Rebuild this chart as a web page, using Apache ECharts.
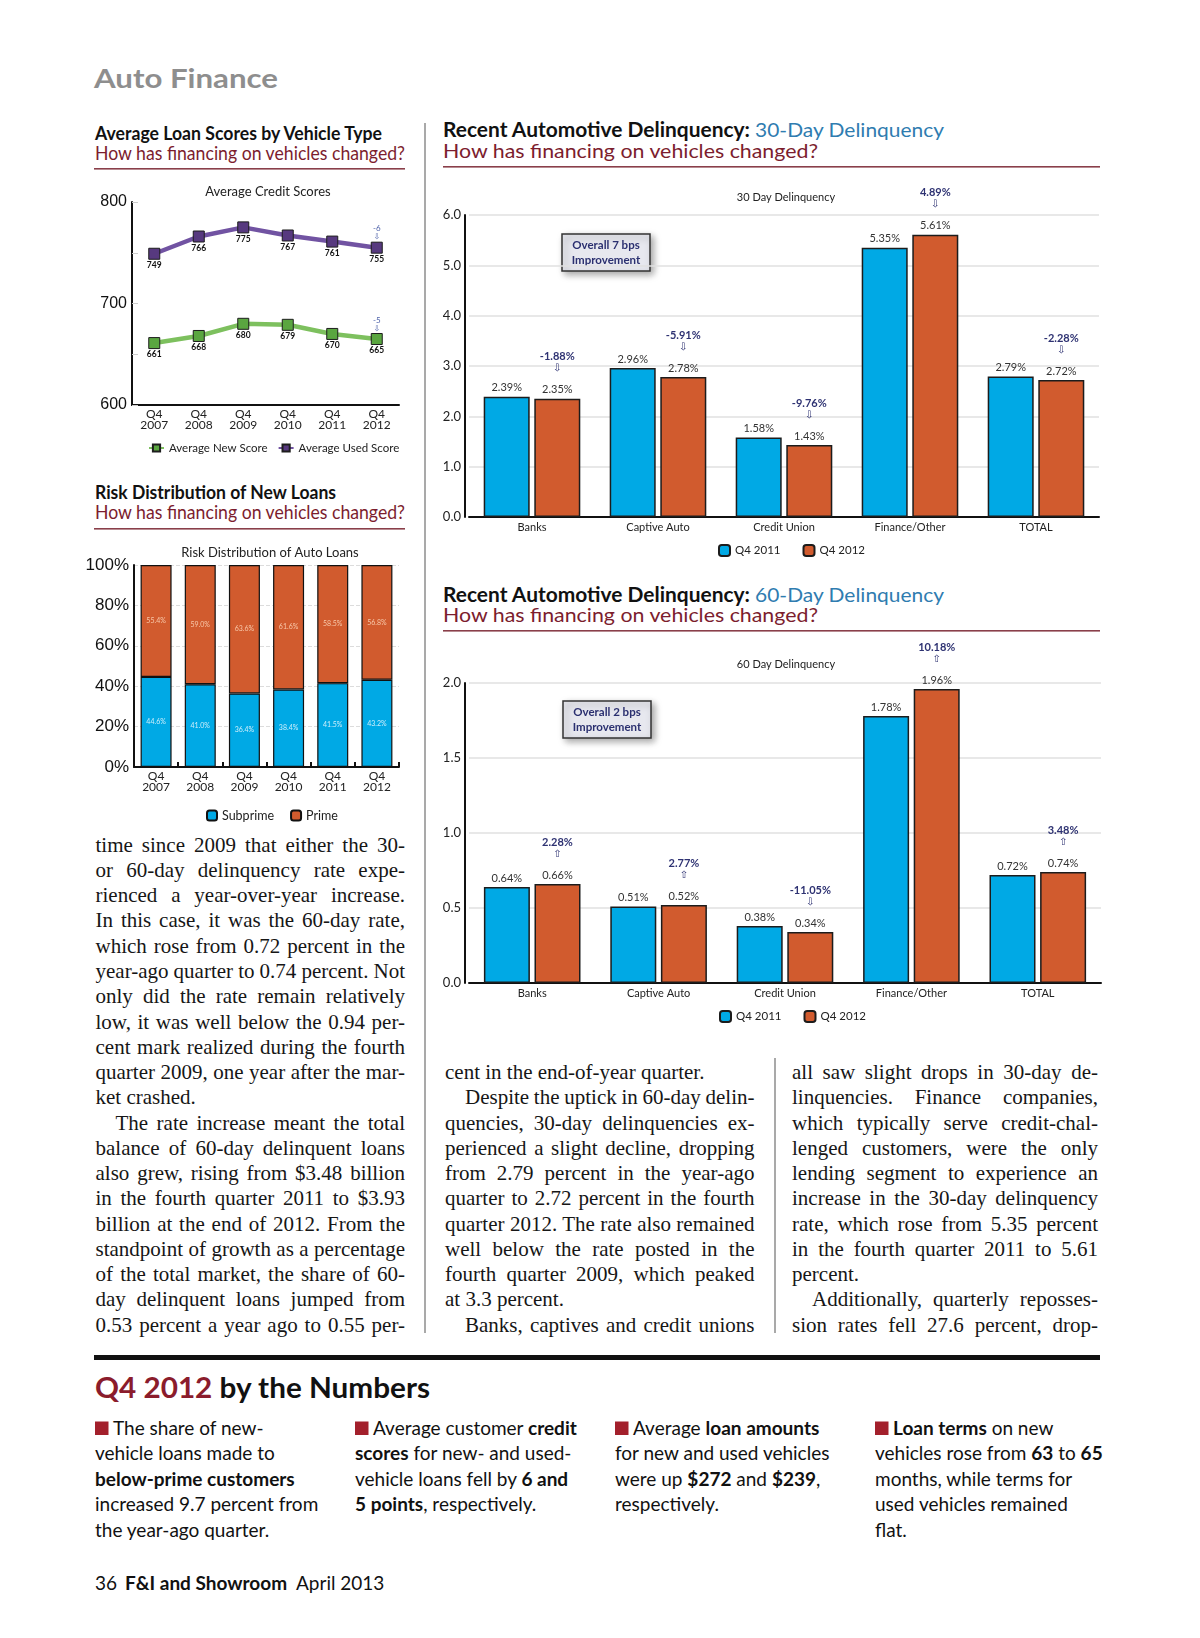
<!DOCTYPE html>
<html><head><meta charset="utf-8"><title>Auto Finance</title>
<script src="https://cdn.jsdelivr.net/npm/echarts@6/dist/echarts.min.js"></script>
<style>
html,body{margin:0;padding:0;background:#fff;}
#page{position:relative;width:1200px;height:1638px;overflow:hidden;background:#fff;}
#txt{position:absolute;left:0;top:0;}
#chart{position:absolute;left:0;top:0;width:1200px;height:1638px;}
</style></head><body>
<div id="page"><svg id="txt" width="1200" height="1638" xmlns="http://www.w3.org/2000/svg"></svg><div id="chart"></div></div>
<script>
// ---------------- DATA ----------------
const years = ['Q4\n2007','Q4\n2008','Q4\n2009','Q4\n2010','Q4\n2011','Q4\n2012'];
const newScore = [661,668,680,679,670,665];
const usedScore = [749,766,775,767,761,755];
const scoreChangeNew = -5;
const scoreChangeUsed = -6;
const subprimeShare = [44.6,41.0,36.4,38.4,41.5,43.2];
const primeShare = [55.4,59.0,63.6,61.6,58.5,56.8];
const lenders = ['Banks','Captive Auto','Credit Union','Finance/Other','TOTAL'];
const del30Q42011 = [2.39,2.96,1.58,5.35,2.79];
const del30Q42012 = [2.35,2.78,1.43,5.61,2.72];
const del30Change = ['-1.88%','-5.91%','-9.76%','4.89%','-2.28%'];
const del30Arrow = ['⇩','⇩','⇩','⇩','⇩'];
const del60Q42011 = [0.64,0.51,0.38,1.78,0.72];
const del60Q42012 = [0.66,0.52,0.34,1.96,0.74];
const del60Change = ['2.28%','2.77%','-11.05%','10.18%','3.48%'];
const del60Arrow = ['⇧','⇧','⇩','⇧','⇧'];

// ---------------- PAGE TEXT ----------------
const leftLines = [
 ['time since 2009 that either the 30-','j'],
 ['or 60-day delinquency rate expe-','j'],
 ['rienced a year-over-year increase.','j'],
 ['In this case, it was the 60-day rate,','j'],
 ['which rose from 0.72 percent in the','j'],
 ['year-ago quarter to 0.74 percent. Not','j'],
 ['only did the rate remain relatively','j'],
 ['low, it was well below the 0.94 per-','j'],
 ['cent mark realized during the fourth','j'],
 ['quarter 2009, one year after the mar-','j'],
 ['ket crashed.','l'],
 ['The rate increase meant the total','ij'],
 ['balance of 60-day delinquent loans','j'],
 ['also grew, rising from $3.48 billion','j'],
 ['in the fourth quarter 2011 to $3.93','j'],
 ['billion at the end of 2012. From the','j'],
 ['standpoint of growth as a percentage','j'],
 ['of the total market, the share of 60-','j'],
 ['day delinquent loans jumped from','j'],
 ['0.53 percent a year ago to 0.55 per-','j']
];
const midLines = [
 ['cent in the end-of-year quarter.','l'],
 ['Despite the uptick in 60-day delin-','ij'],
 ['quencies, 30-day delinquencies ex-','j'],
 ['perienced a slight decline, dropping','j'],
 ['from 2.79 percent in the year-ago','j'],
 ['quarter to 2.72 percent in the fourth','j'],
 ['quarter 2012. The rate also remained','j'],
 ['well below the rate posted in the','j'],
 ['fourth quarter 2009, which peaked','j'],
 ['at 3.3 percent.','l'],
 ['Banks, captives and credit unions','ij']
];
const rightLines = [
 ['all saw slight drops in 30-day de-','j'],
 ['linquencies. Finance companies,','j'],
 ['which typically serve credit-chal-','j'],
 ['lenged customers, were the only','j'],
 ['lending segment to experience an','j'],
 ['increase in the 30-day delinquency','j'],
 ['rate, which rose from 5.35 percent','j'],
 ['in the fourth quarter 2011 to 5.61','j'],
 ['percent.','l'],
 ['Additionally, quarterly reposses-','ij'],
 ['sion rates fell 27.6 percent, drop-','j']
];
const bullets = [
 ['The share of new-','vehicle loans made to','**below-prime customers**','increased 9.7 percent from','the year-ago quarter.'],
 ['Average customer **credit**','**scores** for new- and used-','vehicle loans fell by **6 and**','**5 points**, respectively.'],
 ['Average **loan amounts**','for new and used vehicles','were up **$272** and **$239**,','respectively.'],
 ['**Loan terms** on new','vehicles rose from **63** to **65**','months, while terms for','used vehicles remained','flat.']
];

const NS = 'http://www.w3.org/2000/svg';
const svg = document.getElementById('txt');
const SANS = 'Lato, "Open Sans", sans-serif';
const SERIF = '"Liberation Serif", "Times New Roman", serif';
function el(tag, attrs, parent){
  const e = document.createElementNS(NS, tag);
  for (const k in attrs) e.setAttribute(k, attrs[k]);
  (parent || svg).appendChild(e);
  return e;
}
function heading(x, y, size, parts, width){
  const t = el('text', {x:x, y:y, 'font-family':SANS, 'font-size':size});
  parts.forEach(p => {
    const s = el('tspan', {'font-weight':p.w || 'normal', fill:p.c || '#111'}, t);
    s.textContent = p.t;
  });
  if (width){ t.setAttribute('textLength', width); t.setAttribute('lengthAdjust', 'spacingAndGlyphs'); }
  return t;
}
function richLine(x, y, size, str, color){
  const t = el('text', {x:x, y:y, 'font-family':SANS, 'font-size':size, fill:color || '#111'});
  str.split(/(\*\*[^*]+\*\*)/).forEach(p => {
    if (!p) return;
    const b = p.startsWith('**');
    const s = el('tspan', b ? {'font-weight':'bold'} : {}, t);
    s.textContent = b ? p.slice(2, -2) : p;
  });
  return t;
}
const BODY_SIZE = 21;
function bodyLine(x, y, w, str, mode){
  const indent = mode === 'ij' ? 20 : 0;
  const t = el('text', {x:x + indent, y:y, 'font-family':SERIF, 'font-size':BODY_SIZE, fill:'#161616'});
  t.textContent = str;
  if (mode === 'l') return;
  const target = w - indent;
  const nat = t.getComputedTextLength();
  const n = (str.match(/ /g) || []).length;
  const ws = n ? (target - nat) / n : 0;
  if (n && ws > -1.5){
    t.style.wordSpacing = ws + 'px';
    const now = t.getComputedTextLength();
    if (Math.abs(now - target) > 1.5){ t.style.wordSpacing = ''; t.setAttribute('textLength', target); t.setAttribute('lengthAdjust','spacing'); }
  } else {
    t.setAttribute('textLength', target); t.setAttribute('lengthAdjust','spacingAndGlyphs');
  }
}
function rule(x, y, w, h, c){ el('rect', {x:x, y:y, width:w, height:h, fill:c}); }

function buildPage(){
  const RED = '#7c1d2e', RULE = '#8a3f4a';
  heading(94, 88, 27, [{t:'Auto Finance', w:'bold', c:'#8e8e8e'}], 184);
  heading(95, 140, 19, [{t:'Average Loan Scores by Vehicle Type', w:'bold'}], 287);
  heading(95, 160, 19, [{t:'How has financing on vehicles changed?', c:RED}], 310);
  rule(94, 168, 311, 1.6, RULE);
  heading(95, 499, 19, [{t:'Risk Distribution of New Loans', w:'bold'}], 241);
  heading(95, 519, 19, [{t:'How has financing on vehicles changed?', c:RED}], 310);
  rule(94, 528, 311, 1.6, RULE);
  heading(443, 137, 20, [{t:'Recent Automotive Delinquency: ', w:'bold'}, {t:'30-Day Delinquency', c:'#2f7cb0'}], 501);
  heading(443, 158, 20, [{t:'How has financing on vehicles changed?', c:RED}], 375);
  rule(443, 166, 657, 1.6, RULE);
  heading(443, 602, 20, [{t:'Recent Automotive Delinquency: ', w:'bold'}, {t:'60-Day Delinquency', c:'#2f7cb0'}], 501);
  heading(443, 622, 20, [{t:'How has financing on vehicles changed?', c:RED}], 375);
  rule(443, 630, 657, 1.6, RULE);
  // column separators
  rule(424.5, 123, 1, 1210, '#555');
  rule(774.5, 1058, 1, 275, '#555');
  // body text
  const BASE0 = 851.7, LEAD = 25.26;
  [{x:95.5, w:309.5, k0:0, lines:leftLines}, {x:445, w:309.5, k0:9, lines:midLines}, {x:792, w:306, k0:9, lines:rightLines}]
    .forEach(col => col.lines.forEach((ln, i) => bodyLine(col.x, BASE0 + (col.k0 + i) * LEAD, col.w, ln[0], ln[1])));
  // numbers section
  rule(94, 1355, 1006, 5, '#111');
  heading(95, 1398, 28, [{t:'Q4 2012 ', w:'bold', c:'#8b1c2c'}, {t:'by the Numbers', w:'bold', c:'#111'}], 335);
  const bx = [95, 355, 615, 875];
  bullets.forEach((lines, c) => {
    lines.forEach((ln, i) => {
      const y = 1435 + i * 25.4;
      if (i === 0){ rule(bx[c], y - 13.5, 13.5, 13.5, '#a3202c'); richLine(bx[c] + 18, y, 19, ln); }
      else richLine(bx[c], y, 19, ln);
    });
  });
  const f = el('text', {x:95, y:1590, 'font-family':SANS, 'font-size':19, fill:'#111'});
  const a = el('tspan', {}, f); a.textContent = '36';
  const b = el('tspan', {x:125, 'font-weight':'bold'}, f); b.textContent = 'F&I and Showroom';
  const c2 = el('tspan', {x:296}, f); c2.textContent = 'April 2013';
}
buildPage();

// ---------------- CHART ----------------
const BLUE = '#00a9e5', ORANGE = '#d15b2e';
const LBL = 'Lato, "Open Sans", sans-serif';
const AX = '"Liberation Sans", Arial, sans-serif';
const chart = echarts.init(document.getElementById('chart'));

function chgLabel(changes, arrows){
  return {
    show:true, position:'top', distance:2,
    formatter: p => `{c|${changes[p.dataIndex]}}\n{a|${arrows[p.dataIndex]}}\n{s| }\n{v|${p.value.toFixed(2)}%}`,
    rich:{
      c:{fontSize:11, fontWeight:'bold', color:'#2e3272', fontFamily:LBL, lineHeight:12},
      a:{fontSize:10, color:'#2e3272', fontFamily:'"DejaVu Sans"', lineHeight:12},
      s:{fontSize:6, lineHeight:8},
      v:{fontSize:11, color:'#333', fontFamily:LBL, lineHeight:14}
    }
  };
}
const valLabel = {show:true, position:'top', distance:2, formatter:p => p.value.toFixed(2) + '%', fontSize:11, color:'#333', fontFamily:LBL, lineHeight:14};
const barBorder = {borderColor:'#1c1c1c', borderWidth:1.5};
function boxGraphic(x, y, txt){
  return {type:'group', x:x, y:y, children:[
    {type:'rect', shape:{x:0, y:0, width:88, height:37}, style:{fill:'#e7e8ef', stroke:'#333', lineWidth:1.5, shadowBlur:7, shadowColor:'rgba(0,0,0,0.35)', shadowOffsetX:3, shadowOffsetY:3}},
    {type:'text', x:44, y:19, style:{text:txt, align:'center', verticalAlign:'middle', fill:'#2b3070', fontSize:11.5, fontWeight:'bold', fontFamily:LBL, lineHeight:15}}
  ]};
}
function markChange(seriesData, change){
  return {
    symbol:'circle', symbolSize:1, itemStyle:{color:'rgba(0,0,0,0)'}, silent:true,
    data:[{coord:[seriesData.length - 1, seriesData[seriesData.length - 1]], value:change}],
    label:{show:true, position:'top', distance:6, formatter:p => `{c|${p.value}}\n{a|⇩}`,
      rich:{c:{fontSize:8, lineHeight:9, color:'#4b5fa8', fontFamily:LBL}, a:{fontSize:8, lineHeight:8, color:'#4b5fa8', fontFamily:'"DejaVu Sans"'}}}
  };
}
const catAxisBase = {type:'category', boundaryGap:true, axisLine:{lineStyle:{color:'#111', width:2}}, axisTick:{show:false}};

const option = {
  animation:false,
  title:[
    {text:'Average Credit Scores', left:263, top:180, textAlign:'center', textStyle:{fontSize:13, fontWeight:'normal', color:'#222', fontFamily:LBL}},
    {text:'Risk Distribution of Auto Loans', left:265, top:541, textAlign:'center', textStyle:{fontSize:13, fontWeight:'normal', color:'#222', fontFamily:LBL}},
    {text:'30 Day Delinquency', left:781, top:187, textAlign:'center', textStyle:{fontSize:11, fontWeight:'normal', color:'#222', fontFamily:LBL}},
    {text:'60 Day Delinquency', left:781, top:654, textAlign:'center', textStyle:{fontSize:11, fontWeight:'normal', color:'#222', fontFamily:LBL}}
  ],
  legend:[
    {data:['Average New Score','Average Used Score'], left:143, top:437, itemWidth:15, itemHeight:9, itemGap:10, textStyle:{fontSize:11.5, color:'#222', fontFamily:LBL}},
    {data:['Subprime','Prime'], left:201, top:804, itemWidth:10, itemHeight:10, itemGap:16, textStyle:{fontSize:12.5, color:'#222', fontFamily:LBL}},
    {data:['Q4 2011','Q4 2012'], left:713, top:539, itemWidth:11, itemHeight:11, itemGap:22, textStyle:{fontSize:11.5, color:'#222', fontFamily:LBL}},
    {data:['Q4 2011','Q4 2012'], left:714, top:1005, itemWidth:11, itemHeight:11, itemGap:22, textStyle:{fontSize:11.5, color:'#222', fontFamily:LBL}}
  ],
  grid:[
    {left:132, top:202, width:267, height:203},
    {left:134, top:565, width:265, height:202},
    {left:469, top:215, width:630, height:302},
    {left:469, top:683, width:632, height:300}
  ],
  xAxis:[
    Object.assign({}, catAxisBase, {gridIndex:0, data:years, axisLabel:{fontSize:12, lineHeight:11, color:'#222', margin:4, fontFamily:LBL}}),
    Object.assign({}, catAxisBase, {gridIndex:1, data:years, axisTick:{show:true, inside:true, length:5, lineStyle:{color:'#111', width:2}}, axisLabel:{fontSize:12, lineHeight:11, color:'#222', margin:4, fontFamily:LBL}}),
    Object.assign({}, catAxisBase, {gridIndex:2, data:lenders, axisLabel:{fontSize:11, color:'#222', margin:5, fontFamily:LBL}}),
    Object.assign({}, catAxisBase, {gridIndex:3, data:lenders, axisLabel:{fontSize:11, color:'#222', margin:5, fontFamily:LBL}})
  ],
  yAxis:[
    {type:'value', gridIndex:0, min:600, max:800, interval:50, axisLine:{show:true, lineStyle:{color:'#111', width:2}},
     axisTick:{show:true, inside:true, length:6, lineStyle:{color:'#ccc'}}, splitLine:{show:false},
     axisLabel:{fontSize:16, color:'#111', margin:5, fontFamily:AX, formatter:v => v % 100 === 0 ? String(v) : ''}},
    {type:'value', gridIndex:1, min:0, max:100, interval:20, axisLine:{show:true, lineStyle:{color:'#111', width:2}},
     axisTick:{show:false}, splitLine:{show:true, lineStyle:{color:'#dcdcdc', type:'dashed'}},
     axisLabel:{fontSize:17, color:'#111', margin:5, fontFamily:AX, formatter:'{value}%'}},
    {type:'value', gridIndex:2, min:0, max:6, interval:1, offset:4, axisLine:{show:true, lineStyle:{color:'#111', width:2}},
     axisTick:{show:false}, splitLine:{show:true, lineStyle:{color:'#e0e0e0', width:1.5}},
     axisLabel:{fontSize:13, color:'#222', margin:4, fontFamily:LBL, formatter:v => v.toFixed(1)}},
    {type:'value', gridIndex:3, min:0, max:2, interval:0.5, offset:4, axisLine:{show:true, lineStyle:{color:'#111', width:2}},
     axisTick:{show:false}, splitLine:{show:true, lineStyle:{color:'#e0e0e0', width:1.5}},
     axisLabel:{fontSize:13, color:'#222', margin:4, fontFamily:LBL, formatter:v => v.toFixed(1)}}
  ],
  graphic:[ boxGraphic(562, 234, 'Overall 7 bps\nImprovement'), boxGraphic(563, 701, 'Overall 2 bps\nImprovement') ],
  series:[
    {type:'line', name:'Average New Score', xAxisIndex:0, yAxisIndex:0, data:newScore, symbol:'rect', symbolSize:11,
     lineStyle:{color:'#7dc05e', width:4.5}, itemStyle:{color:'#5aa640', borderColor:'#1d1d1d', borderWidth:1},
     label:{show:true, position:'bottom', distance:1, fontSize:8.5, fontWeight:'bold', color:'#111', fontFamily:LBL},
     markPoint:markChange(newScore, scoreChangeNew)},
    {type:'line', name:'Average Used Score', xAxisIndex:0, yAxisIndex:0, data:usedScore, symbol:'rect', symbolSize:11,
     lineStyle:{color:'#7153a2', width:4.5}, itemStyle:{color:'#57397f', borderColor:'#1d1d1d', borderWidth:1},
     label:{show:true, position:'bottom', distance:1, fontSize:8.5, fontWeight:'bold', color:'#111', fontFamily:LBL},
     markPoint:markChange(usedScore, scoreChangeUsed)},
    {type:'bar', name:'Subprime', xAxisIndex:1, yAxisIndex:1, stack:'risk', data:subprimeShare, barWidth:31,
     itemStyle:{color:BLUE, borderColor:'#111', borderWidth:1.2},
     label:{show:true, position:'inside', formatter:p => p.value.toFixed(1) + '%', fontSize:7, color:'#cdeefb', textBorderWidth:0, fontFamily:LBL}},
    {type:'bar', name:'Prime', xAxisIndex:1, yAxisIndex:1, stack:'risk', data:primeShare, barWidth:31,
     itemStyle:{color:ORANGE, borderColor:'#111', borderWidth:1.2},
     label:{show:true, position:'inside', formatter:p => p.value.toFixed(1) + '%', fontSize:7, color:'#f8c9ab', textBorderWidth:0, fontFamily:LBL}},
    {type:'bar', name:'Q4 2011', xAxisIndex:2, yAxisIndex:2, data:del30Q42011, barWidth:46, barGap:'10%',
     itemStyle:Object.assign({color:BLUE}, barBorder), label:valLabel},
    {type:'bar', name:'Q4 2012', xAxisIndex:2, yAxisIndex:2, data:del30Q42012, barWidth:46, barGap:'10%',
     itemStyle:Object.assign({color:ORANGE}, barBorder), label:chgLabel(del30Change, del30Arrow)},
    {type:'bar', name:'Q4 2011', xAxisIndex:3, yAxisIndex:3, data:del60Q42011, barWidth:46, barGap:'10%',
     itemStyle:Object.assign({color:BLUE}, barBorder), label:valLabel},
    {type:'bar', name:'Q4 2012', xAxisIndex:3, yAxisIndex:3, data:del60Q42012, barWidth:46, barGap:'10%',
     itemStyle:Object.assign({color:ORANGE}, barBorder), label:chgLabel(del60Change, del60Arrow)}
  ]
};
chart.setOption(option);
</script></body></html>
